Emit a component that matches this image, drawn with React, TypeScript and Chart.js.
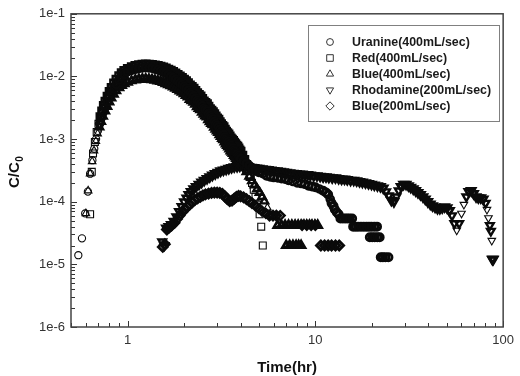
import React, { useEffect, useRef } from 'react';
import { Chart, registerables } from 'chart.js';

Chart.register(...registerables);

const seriesLabels = [
  'Uranine(400mL/sec)',
  'Red(400mL/sec)',
  'Blue(400mL/sec)',
  'Rhodamine(200mL/sec)',
  'Blue(200mL/sec)',
];

const xMajorTicks = [1, 10, 100];
const xTickLabels = ['1', '10', '100'];
const yMajorTicks = [1e-6, 1e-5, 1e-4, 1e-3, 1e-2, 1e-1];
const yTickLabels = ['1e-6', '1e-5', '1e-4', '1e-3', '1e-2', '1e-1'];

const xTitle = 'Time(hr)';
const yTitleMain = 'C/C';
const yTitleSub = '0';

// [time (hr), C/C0]
const uranine = [
  [0.547, 1.4e-5], [0.572, 2.6e-5], [0.595, 6.5e-5], [0.615, 1.45e-4], [0.632, 2.8e-4], [0.65, 4.6e-4],
  [0.665, 7e-4], [0.68, 1.0e-3], [0.695, 1.35e-3], [0.71, 1.75e-3], [0.725, 2.2e-3], [0.74, 2.65e-3],
  [0.76, 3.2e-3], [0.78, 3.9e-3], [0.8, 4.6e-3], [0.82, 5.3e-3], [0.845, 6.3e-3], [0.87, 7.4e-3],
  [0.9, 8.7e-3], [0.93, 9.8e-3], [0.96, 1.08e-2], [1.0, 1.18e-2], [1.05, 1.25e-2], [1.1, 1.31e-2],
  [1.15, 1.35e-2], [1.2, 1.38e-2], [1.25, 1.39e-2], [1.3, 1.38e-2], [1.35, 1.36e-2], [1.4, 1.32e-2],
  [1.45, 1.28e-2], [1.5, 1.23e-2], [1.55, 1.18e-2], [1.6, 1.13e-2], [1.65, 1.07e-2], [1.7, 1.01e-2],
  [1.75, 9.5e-3], [1.8, 9.0e-3], [1.85, 8.4e-3], [1.9, 7.9e-3], [1.95, 7.4e-3], [2.0, 6.9e-3],
  [2.05, 6.5e-3], [2.1, 6.0e-3], [2.15, 5.5e-3], [2.2, 5.2e-3], [2.25, 4.9e-3], [2.3, 4.5e-3],
  [2.35, 4.1e-3], [2.4, 3.9e-3], [2.45, 3.7e-3], [2.5, 3.4e-3], [2.55, 3.1e-3], [2.6, 2.95e-3],
  [2.65, 2.8e-3], [2.7, 2.55e-3], [2.75, 2.35e-3], [2.8, 2.2e-3], [2.85, 2.1e-3], [2.9, 1.9e-3],
  [2.95, 1.75e-3], [3.0, 1.65e-3], [3.05, 1.56e-3], [3.1, 1.43e-3], [3.15, 1.32e-3], [3.2, 1.24e-3],
  [3.25, 1.18e-3], [3.3, 1.08e-3], [3.35, 1.0e-3], [3.4, 9.5e-4], [3.45, 9.1e-4], [3.5, 8.4e-4],
  [3.55, 7.8e-4], [3.6, 7.5e-4], [3.65, 7.2e-4], [3.7, 6.7e-4], [3.75, 6.3e-4], [3.8, 6.0e-4],
  [3.85, 5.8e-4], [3.9, 5.4e-4], [3.95, 5.1e-4], [4.0, 4.9e-4], [4.15, 4.5e-4], [4.3, 4.1e-4],
  [4.45, 3.75e-4], [4.6, 3.45e-4], [4.8, 3.15e-4], [5.0, 2.95e-4], [5.25, 2.8e-4], [5.5, 2.6e-4],
  [5.75, 2.5e-4], [6.0, 2.45e-4], [6.3, 2.4e-4], [6.6, 2.35e-4], [6.9, 2.3e-4], [7.2, 2.2e-4],
  [7.6, 2.1e-4], [8.0, 2.0e-4], [8.4, 1.95e-4], [8.8, 1.9e-4], [9.2, 1.8e-4], [9.6, 1.75e-4],
  [10.0, 1.7e-4], [10.5, 1.6e-4], [11.0, 1.5e-4], [11.4, 1.4e-4], [11.7, 1.3e-4], [12.0, 1.1e-4],
  [12.2, 9.5e-5], [12.5, 8.5e-5], [12.7, 7.5e-5], [13.0, 6.8e-5], [13.3, 6.3e-5],
  [13.6, 5.4e-5], [14.0, 5.4e-5], [14.4, 5.4e-5], [14.8, 5.4e-5], [15.2, 5.4e-5], [15.7, 5.4e-5],
  [15.9, 4e-5], [16.4, 4e-5], [16.9, 4e-5], [17.5, 4e-5], [18.1, 4e-5], [18.7, 4e-5],
  [19.3, 4e-5], [19.9, 4e-5], [20.6, 4e-5], [21.3, 4e-5],
  [19.5, 2.7e-5], [20.1, 2.7e-5], [20.7, 2.7e-5], [21.4, 2.7e-5], [22.0, 2.7e-5],
  [22.3, 1.3e-5], [22.9, 1.3e-5], [23.6, 1.3e-5], [24.5, 1.3e-5],
];

const red400 = [
  [0.632, 6.3e-5], [0.645, 3.0e-4], [0.655, 5.9e-4], [0.67, 9e-4], [0.685, 1.3e-3], [0.7, 1.75e-3],
  [0.715, 2.25e-3], [0.73, 2.8e-3], [0.745, 3.4e-3], [0.76, 4.0e-3], [0.78, 4.8e-3], [0.8, 5.7e-3],
  [0.82, 6.6e-3], [0.845, 7.8e-3], [0.87, 9e-3], [0.9, 1.02e-2], [0.93, 1.13e-2], [0.96, 1.23e-2],
  [1.0, 1.33e-2], [1.05, 1.42e-2], [1.1, 1.48e-2], [1.15, 1.52e-2], [1.2, 1.55e-2], [1.25, 1.56e-2],
  [1.3, 1.55e-2], [1.35, 1.53e-2], [1.4, 1.5e-2], [1.45, 1.47e-2], [1.5, 1.43e-2], [1.55, 1.39e-2],
  [1.6, 1.34e-2], [1.65, 1.29e-2], [1.7, 1.24e-2], [1.75, 1.18e-2], [1.8, 1.12e-2], [1.85, 1.06e-2],
  [1.9, 1.0e-2], [1.95, 9.5e-3], [2.0, 8.9e-3], [2.05, 8.4e-3], [2.1, 7.8e-3], [2.15, 7.2e-3],
  [2.2, 6.8e-3], [2.25, 6.4e-3], [2.3, 5.9e-3], [2.35, 5.4e-3], [2.4, 5.1e-3], [2.45, 4.8e-3],
  [2.5, 4.4e-3], [2.55, 4.0e-3], [2.6, 3.8e-3], [2.65, 3.6e-3], [2.7, 3.3e-3], [2.75, 3.0e-3],
  [2.8, 2.85e-3], [2.85, 2.7e-3], [2.9, 2.5e-3], [2.95, 2.3e-3], [3.0, 2.15e-3], [3.05, 2.05e-3],
  [3.1, 1.87e-3], [3.15, 1.74e-3], [3.2, 1.63e-3], [3.25, 1.55e-3], [3.3, 1.42e-3], [3.35, 1.32e-3],
  [3.4, 1.25e-3], [3.45, 1.19e-3], [3.5, 1.1e-3], [3.55, 1.03e-3], [3.6, 9.8e-4], [3.65, 9.4e-4],
  [3.7, 8.8e-4], [3.75, 8.3e-4], [3.8, 7.9e-4], [3.85, 7.6e-4], [3.9, 7.1e-4], [3.95, 6.6e-4],
  [4.0, 6.3e-4], [4.1, 5.5e-4], [4.2, 4.7e-4], [4.3, 3.9e-4], [4.4, 3.2e-4], [4.5, 2.55e-4],
  [4.6, 2.0e-4], [4.7, 1.55e-4], [4.8, 1.2e-4], [4.9, 9e-5], [5.05, 6.3e-5], [5.15, 4e-5],
  [5.25, 2e-5],
];

const blue400 = [
  [0.6, 6.5e-5], [0.617, 1.5e-4], [0.632, 2.8e-4], [0.648, 4.4e-4], [0.663, 6.5e-4], [0.678, 9.2e-4],
  [0.693, 1.22e-3], [0.708, 1.55e-3], [0.723, 1.9e-3], [0.74, 2.3e-3], [0.76, 2.8e-3], [0.78, 3.3e-3],
  [0.8, 3.9e-3], [0.82, 4.5e-3], [0.845, 5.2e-3], [0.87, 5.9e-3], [0.9, 6.6e-3], [0.93, 7.2e-3],
  [0.96, 7.7e-3], [1.0, 8.1e-3], [1.05, 8.5e-3], [1.1, 8.8e-3], [1.15, 9.0e-3], [1.2, 9.1e-3],
  [1.25, 9.1e-3], [1.3, 9.0e-3], [1.35, 8.9e-3], [1.4, 8.7e-3], [1.45, 8.5e-3], [1.5, 8.3e-3],
  [1.55, 8.0e-3], [1.6, 7.7e-3], [1.65, 7.4e-3], [1.7, 7.1e-3], [1.75, 6.8e-3], [1.8, 6.5e-3],
  [1.85, 6.2e-3], [1.9, 5.9e-3], [1.95, 5.6e-3], [2.0, 5.3e-3], [2.05, 5.0e-3], [2.1, 4.7e-3],
  [2.15, 4.3e-3], [2.2, 4.1e-3], [2.25, 3.9e-3], [2.3, 3.6e-3], [2.35, 3.3e-3], [2.4, 3.1e-3],
  [2.45, 2.95e-3], [2.5, 2.7e-3], [2.55, 2.5e-3], [2.6, 2.35e-3], [2.65, 2.25e-3], [2.7, 2.05e-3],
  [2.75, 1.9e-3], [2.8, 1.78e-3], [2.85, 1.7e-3], [2.9, 1.55e-3], [2.95, 1.44e-3], [3.0, 1.35e-3],
  [3.05, 1.28e-3], [3.1, 1.18e-3], [3.15, 1.1e-3], [3.2, 1.03e-3], [3.25, 9.8e-4], [3.3, 9.0e-4],
  [3.35, 8.4e-4], [3.4, 7.9e-4], [3.45, 7.5e-4], [3.5, 7.0e-4], [3.55, 6.5e-4], [3.6, 6.2e-4],
  [3.65, 5.9e-4], [3.7, 5.5e-4], [3.75, 5.2e-4], [3.8, 4.9e-4], [3.85, 4.7e-4], [3.9, 4.4e-4],
  [3.95, 4.2e-4], [4.0, 4.0e-4], [4.15, 3.5e-4], [4.3, 3.0e-4], [4.45, 2.55e-4], [4.6, 2.15e-4],
  [4.75, 1.85e-4], [4.9, 1.6e-4], [5.05, 1.4e-4], [5.2, 1.2e-4], [5.35, 1.02e-4], [5.55, 8e-5],
  [5.8, 6e-5],
  [6.3, 4.2e-5], [6.6, 4.2e-5], [6.9, 4.2e-5], [7.2, 4.2e-5], [7.5, 4.2e-5], [7.8, 4.2e-5],
  [8.1, 4.2e-5], [8.4, 4.2e-5], [8.7, 4.2e-5], [9.0, 4.2e-5], [9.3, 4.2e-5], [9.6, 4.2e-5],
  [9.95, 4.2e-5], [10.3, 4.2e-5],
  [7.0, 2e-5], [7.3, 2e-5], [7.6, 2e-5], [7.9, 2e-5], [8.15, 2e-5], [8.4, 2e-5],
];

const rhodamine200 = [
  [1.53, 2.3e-5], [1.57, 2.0e-5], [1.61, 3.8e-5], [1.66, 4.0e-5], [1.71, 4.3e-5], [1.76, 4.9e-5],
  [1.82, 5.8e-5], [1.88, 7.0e-5], [1.94, 8.4e-5], [2.0, 1.0e-4], [2.06, 1.15e-4], [2.12, 1.3e-4],
  [2.18, 1.45e-4], [2.25, 1.6e-4], [2.32, 1.75e-4], [2.4, 1.9e-4], [2.48, 2.05e-4], [2.56, 2.2e-4],
  [2.65, 2.35e-4], [2.74, 2.5e-4], [2.83, 2.65e-4], [2.93, 2.8e-4], [3.03, 2.95e-4], [3.13, 3.1e-4],
  [3.24, 3.2e-4], [3.35, 3.3e-4], [3.46, 3.4e-4], [3.58, 3.5e-4], [3.7, 3.6e-4], [3.83, 3.65e-4],
  [3.96, 3.7e-4], [4.1, 3.7e-4], [4.25, 3.65e-4], [4.4, 3.6e-4], [4.55, 3.55e-4], [4.7, 3.5e-4],
  [4.85, 3.45e-4], [5.0, 3.4e-4], [5.2, 3.35e-4], [5.4, 3.3e-4], [5.6, 3.25e-4], [5.8, 3.2e-4],
  [6.0, 3.15e-4], [6.25, 3.1e-4], [6.5, 3.05e-4], [6.75, 3.0e-4], [7.0, 2.95e-4], [7.3, 2.9e-4],
  [7.6, 2.85e-4], [7.9, 2.8e-4], [8.2, 2.75e-4], [8.5, 2.75e-4], [8.8, 2.7e-4], [9.1, 2.7e-4],
  [9.4, 2.65e-4], [9.8, 2.6e-4], [10.2, 2.6e-4], [10.6, 2.55e-4], [11.0, 2.5e-4], [11.4, 2.5e-4],
  [11.8, 2.45e-4], [12.3, 2.4e-4], [12.8, 2.4e-4], [13.3, 2.35e-4], [13.8, 2.3e-4], [14.3, 2.3e-4],
  [14.8, 2.25e-4], [15.4, 2.2e-4], [16.0, 2.2e-4], [16.6, 2.15e-4], [17.2, 2.1e-4], [17.8, 2.05e-4],
  [18.5, 2.0e-4], [19.2, 1.95e-4], [19.9, 1.9e-4], [20.6, 1.85e-4], [21.4, 1.8e-4], [22.2, 1.75e-4],
  [23.0, 1.65e-4], [23.8, 1.45e-4], [24.6, 1.25e-4], [25.4, 1.05e-4], [26.2, 1.0e-4], [27.0, 1.2e-4],
  [27.8, 1.5e-4], [28.6, 1.75e-4], [29.5, 1.9e-4], [30.4, 1.9e-4], [31.3, 1.8e-4], [32.2, 1.7e-4],
  [33.2, 1.6e-4], [34.2, 1.5e-4], [35.2, 1.4e-4], [36.3, 1.3e-4], [37.4, 1.2e-4], [38.5, 1.1e-4],
  [39.7, 1.0e-4], [40.9, 9.2e-5], [42.1, 8.6e-5], [43.4, 8.2e-5], [44.7, 7.8e-5], [46.0, 7.8e-5],
  [47.4, 8.0e-5], [48.8, 8.3e-5], [50.3, 8.0e-5], [51.8, 7.2e-5], [53.4, 6.0e-5], [55.0, 4.5e-5],
  [56.6, 3.5e-5], [58.3, 4.5e-5], [60.0, 6.5e-5], [61.8, 9.0e-5], [63.7, 1.2e-4], [65.6, 1.45e-4],
  [67.6, 1.5e-4], [69.6, 1.35e-4], [71.7, 1.2e-4], [73.8, 1.15e-4], [76.0, 1.15e-4], [78.3, 1.1e-4],
  [80.6, 9.5e-5], [82.0, 7.5e-5], [83.5, 5.5e-5], [85.0, 4.2e-5], [86.0, 3.4e-5], [87.0, 2.4e-5],
  [87.6, 1.2e-5], [88.0, 1.2e-5], [88.6, 1.2e-5],
];

const blue200 = [
  [1.54, 1.9e-5], [1.58, 2.1e-5], [1.62, 3.6e-5], [1.67, 3.9e-5], [1.72, 4.2e-5], [1.78, 4.6e-5],
  [1.84, 5.3e-5], [1.9, 6.0e-5], [1.96, 6.8e-5], [2.02, 7.6e-5], [2.08, 8.3e-5], [2.14, 9.0e-5],
  [2.21, 9.8e-5], [2.28, 1.06e-4], [2.36, 1.13e-4], [2.44, 1.2e-4], [2.52, 1.26e-4], [2.6, 1.31e-4],
  [2.7, 1.35e-4], [2.8, 1.38e-4], [2.9, 1.4e-4], [3.0, 1.4e-4], [3.1, 1.38e-4], [3.2, 1.33e-4],
  [3.3, 1.22e-4], [3.4, 1.1e-4], [3.5, 1.02e-4], [3.6, 1.04e-4], [3.7, 1.12e-4], [3.8, 1.2e-4],
  [3.9, 1.24e-4], [4.0, 1.22e-4], [4.15, 1.17e-4], [4.3, 1.1e-4], [4.45, 1.02e-4], [4.6, 9.5e-5],
  [4.8, 8.6e-5], [5.0, 7.8e-5], [5.2, 7.1e-5], [5.45, 6.5e-5],
  [5.7, 6e-5], [5.95, 6e-5], [6.2, 6e-5], [6.5, 6e-5],
  [8.5, 4.2e-5], [9.0, 4.2e-5], [9.5, 4.2e-5], [10.0, 4.2e-5],
  [10.7, 2e-5], [11.2, 2e-5], [11.7, 2e-5], [12.2, 2e-5], [12.8, 2e-5], [13.4, 2e-5],
];

const seriesData = [uranine, red400, blue400, rhodamine200, blue200];

const markerStyles = [
  { pointStyle: 'circle', radius: 3.6, rotation: 0 },
  { pointStyle: 'rect', radius: 4.9, rotation: 0 },
  { pointStyle: 'triangle', radius: 4.4, rotation: 0 },
  { pointStyle: 'triangle', radius: 4.4, rotation: 180 },
  { pointStyle: 'rectRot', radius: 4.4, rotation: 0 },
];

const FONT = "'Liberation Sans', Arial, Helvetica, sans-serif";
const INK = '#0a0a0a';

function buildLogTicks(min: number, max: number): number[] {
  const out: number[] = [];
  const e0 = Math.floor(Math.log10(min));
  const e1 = Math.ceil(Math.log10(max));
  for (let e = e0; e <= e1; e++) {
    for (let m = 1; m <= 9; m++) {
      const v = parseFloat((m * Math.pow(10, e)).toPrecision(8));
      if (v >= min * 0.9999 && v <= max * 1.0001) out.push(v);
    }
  }
  return out;
}

function labelFor(v: number, majors: number[], labels: string[]): string {
  for (let i = 0; i < majors.length; i++) {
    if (Math.abs(v / majors[i] - 1) < 1e-6) return labels[i];
  }
  return '';
}

function isMajor(v: number, majors: number[]): boolean {
  return majors.some((m) => Math.abs(v / m - 1) < 1e-6);
}

// stroke weight grows where markers of a series crowd together (ink build-up)
function crowdedWidth(c: any): number {
  const chart = c.chart;
  const xs = chart.scales.x;
  const ys = chart.scales.y;
  const data = c.dataset.data;
  const p = data[c.dataIndex];
  if (!p || !xs || !ys) return 1;
  const px = xs.getPixelForValue(p.x);
  const py = ys.getPixelForValue(p.y);
  let best = Infinity;
  for (let j = 0; j < data.length; j++) {
    if (j === c.dataIndex) continue;
    const dx = xs.getPixelForValue(data[j].x) - px;
    const dy = ys.getPixelForValue(data[j].y) - py;
    const d = Math.sqrt(dx * dx + dy * dy);
    if (d < best) best = d;
  }
  if (best < 3.8) return 2.8;
  if (best < 6.5) return 2.4;
  return 1.1;
}

function drawMarker(ctx: CanvasRenderingContext2D, style: string, rot: number, r: number, x: number, y: number) {
  ctx.beginPath();
  if (style === 'circle') {
    ctx.arc(x, y, r, 0, Math.PI * 2);
  } else if (style === 'rect') {
    const s = Math.SQRT1_2 * r;
    ctx.rect(x - s, y - s, 2 * s, 2 * s);
  } else if (style === 'triangle') {
    let a = (rot * Math.PI) / 180;
    ctx.moveTo(x + Math.sin(a) * r, y - Math.cos(a) * r);
    a += (2 * Math.PI) / 3;
    ctx.lineTo(x + Math.sin(a) * r, y - Math.cos(a) * r);
    a += (2 * Math.PI) / 3;
    ctx.lineTo(x + Math.sin(a) * r, y - Math.cos(a) * r);
    ctx.closePath();
  } else if (style === 'rectRot') {
    ctx.moveTo(x - r, y);
    ctx.lineTo(x, y - r);
    ctx.lineTo(x + r, y);
    ctx.lineTo(x, y + r);
    ctx.closePath();
  }
  ctx.stroke();
}

const decorPlugin = {
  id: 'decor',
  afterDraw(chart: any) {
    const { ctx, chartArea: a, scales } = chart;
    ctx.save();
    // inward ticks
    ctx.strokeStyle = '#333';
    ctx.lineWidth = 1;
    ctx.beginPath();
    for (const t of scales.x.ticks) {
      const px = Math.round(scales.x.getPixelForValue(t.value)) + 0.5;
      const len = isMajor(t.value, xMajorTicks) ? 6 : 4;
      ctx.moveTo(px, a.bottom);
      ctx.lineTo(px, a.bottom - len);
    }
    for (const t of scales.y.ticks) {
      const py = Math.round(scales.y.getPixelForValue(t.value)) + 0.5;
      const len = isMajor(t.value, yMajorTicks) ? 6 : 4;
      ctx.moveTo(a.left, py);
      ctx.lineTo(a.left + len, py);
    }
    ctx.stroke();
    // frame
    ctx.strokeStyle = '#444';
    ctx.lineWidth = 1.5;
    ctx.strokeRect(a.left, a.top, a.right - a.left, a.bottom - a.top);

    // legend
    const lx = 308.5, ly = 25.5, lw = 191, lh = 96;
    ctx.fillStyle = '#fff';
    ctx.fillRect(lx, ly, lw, lh);
    ctx.strokeStyle = '#808080';
    ctx.lineWidth = 1;
    ctx.strokeRect(lx, ly, lw, lh);
    ctx.font = `bold 12.4px ${FONT}`;
    ctx.textBaseline = 'middle';
    ctx.textAlign = 'left';
    for (let i = 0; i < seriesLabels.length; i++) {
      const yy = 42 + i * 16;
      const ms = markerStyles[i];
      ctx.strokeStyle = '#333';
      ctx.lineWidth = 1;
      drawMarker(ctx, ms.pointStyle, ms.rotation, ms.radius * 0.95, 330, yy);
      ctx.fillStyle = '#1a1a1a';
      ctx.fillText(seriesLabels[i], 352, yy + 0.5);
    }

    // axis titles
    ctx.fillStyle = '#111';
    ctx.font = `bold 15px ${FONT}`;
    ctx.textAlign = 'center';
    ctx.textBaseline = 'middle';
    ctx.fillText(xTitle, (a.left + a.right) / 2, 368);

    ctx.save();
    ctx.translate(15, (a.top + a.bottom) / 2 + 2);
    ctx.rotate(-Math.PI / 2);
    ctx.font = `bold 15px ${FONT}`;
    const w1 = ctx.measureText(yTitleMain).width;
    ctx.font = `bold 10px ${FONT}`;
    const w2 = ctx.measureText(yTitleSub).width;
    const start = -(w1 + w2) / 2;
    ctx.textAlign = 'left';
    ctx.font = `bold 15px ${FONT}`;
    ctx.fillText(yTitleMain, start, 0);
    ctx.font = `bold 10px ${FONT}`;
    ctx.fillText(yTitleSub, start + w1 + 0.5, 5);
    ctx.restore();

    ctx.restore();
  },
};

export default function App() {
  const ref = useRef<HTMLCanvasElement | null>(null);

  useEffect(() => {
    document.body.style.margin = '0';
    const canvas = ref.current;
    if (!canvas) return;
    const datasets = seriesData.map((pts, i) => ({
      label: seriesLabels[i],
      data: pts.map((p) => ({ x: p[0], y: p[1] })),
      showLine: false,
      pointStyle: markerStyles[i].pointStyle as any,
      pointRadius: markerStyles[i].radius,
      pointRotation: markerStyles[i].rotation,
      pointBorderColor: INK,
      pointBackgroundColor: 'rgba(0,0,0,0)',
      pointBorderWidth: crowdedWidth,
      pointHoverRadius: markerStyles[i].radius,
    }));

    const chart = new Chart(canvas, {
      type: 'scatter',
      data: { datasets },
      plugins: [decorPlugin],
      options: {
        animation: false,
        responsive: false,
        maintainAspectRatio: false,
        events: [],
        layout: { padding: { top: 11, right: 11, left: 0, bottom: 0 } },
        plugins: {
          legend: { display: false },
          tooltip: { enabled: false },
          title: { display: false },
        },
        scales: {
          x: {
            type: 'logarithmic',
            min: 0.5,
            max: 100,
            grid: { display: false, drawTicks: false },
            border: { display: false },
            afterBuildTicks: (scale: any) => {
              scale.ticks = buildLogTicks(0.5, 100).map((v) => ({ value: v }));
            },
            afterFit: (scale: any) => {
              scale.height = 49;
            },
            ticks: {
              autoSkip: false,
              maxRotation: 0,
              minRotation: 0,
              padding: 6,
              color: '#333',
              font: { family: FONT, size: 13 },
              callback: (v: any) => labelFor(Number(v), xMajorTicks, xTickLabels),
            },
          },
          y: {
            type: 'logarithmic',
            min: 1e-6,
            max: 1e-1,
            grid: { display: false, drawTicks: false },
            border: { display: false },
            afterBuildTicks: (scale: any) => {
              scale.ticks = buildLogTicks(1e-6, 1e-1).map((v) => ({ value: v }));
            },
            afterFit: (scale: any) => {
              scale.width = 71;
            },
            ticks: {
              autoSkip: false,
              padding: 6,
              color: '#333',
              font: { family: FONT, size: 13 },
              callback: (v: any) => labelFor(Number(v), yMajorTicks, yTickLabels),
            },
          },
        },
      } as any,
    });
    return () => chart.destroy();
  }, []);

  return (
    <div style={{ width: 520, height: 376 }}>
      <canvas ref={ref} width={520} height={376} style={{ display: 'block', width: 520, height: 376 }} />
    </div>
  );
}
